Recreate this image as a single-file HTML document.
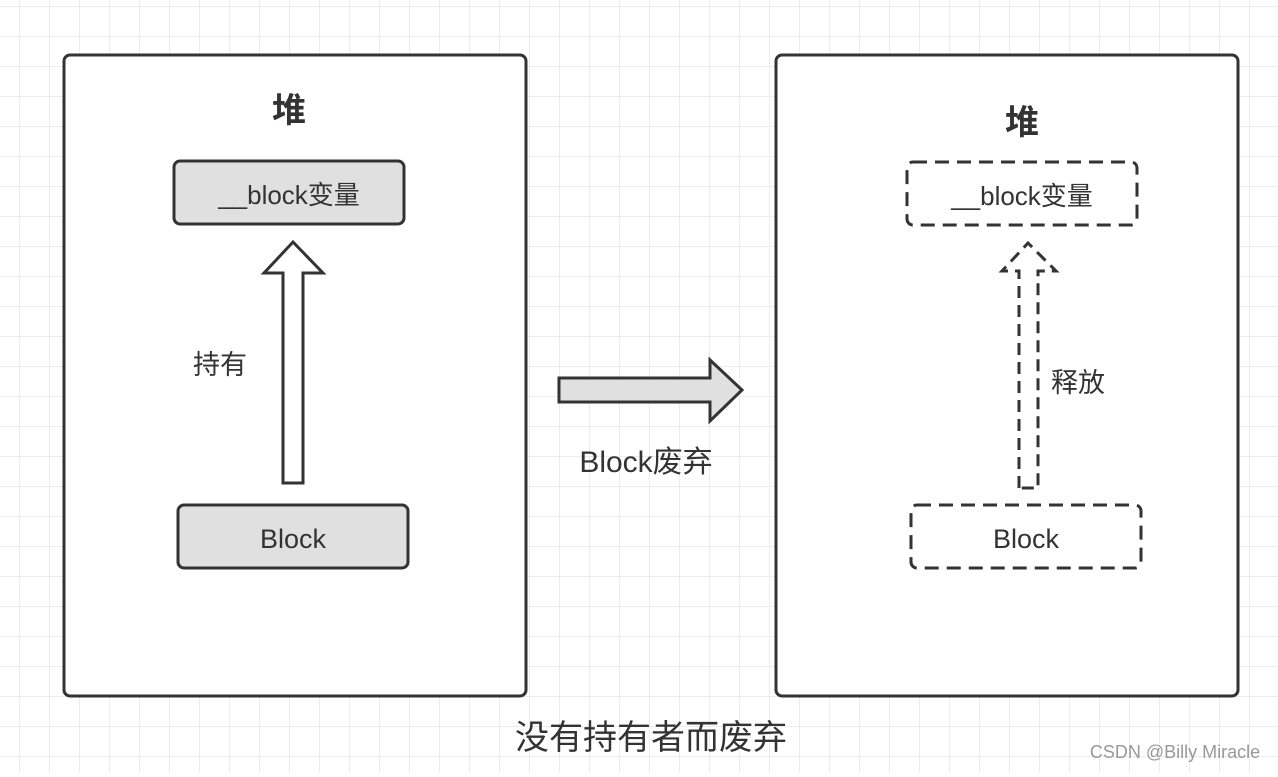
<!DOCTYPE html>
<html><head><meta charset="utf-8"><style>
body{margin:0;width:1278px;height:772px;overflow:hidden;background:#fff}
text{font-family:"Liberation Sans","Noto Sans CJK SC",sans-serif;fill:#333}
</style></head><body>
<svg width="1278" height="772" viewBox="0 0 1278 772" xmlns="http://www.w3.org/2000/svg">
<defs><pattern id="g" x="19" y="6" width="30" height="30" patternUnits="userSpaceOnUse">
<path d="M0 0H30M0 0V30" stroke="#ececec" stroke-width="2" fill="none"/></pattern></defs>
<rect width="1278" height="772" fill="url(#g)"/>
<g stroke="#333" stroke-width="3">
<rect x="64" y="55" width="462" height="641" rx="6" fill="#fff"/>
<rect x="776" y="55" width="462" height="641" rx="6" fill="#fff"/>
<rect x="174" y="161" width="230" height="63" rx="6" fill="#e0e0e0"/>
<rect x="178" y="505" width="230" height="63" rx="6" fill="#e0e0e0"/>
<path d="M283 483V273H264L293 242L323 273H303V483Z" fill="#fff" stroke-linejoin="miter"/>
<rect x="907" y="162" width="230" height="63" rx="6" fill="none" stroke-dasharray="14 8"/>
<rect x="911" y="505" width="230" height="63" rx="6" fill="none" stroke-dasharray="14 8"/>
<path d="M1019 488V271H1002L1028 243L1056 271H1038V488Z" fill="none" stroke-dasharray="12 7"/>
<path d="M559 378H710V360L742 390L710 421V402H559Z" fill="#e0e0e0"/>
</g>
<text x="289" y="122" font-size="34" font-weight="bold" text-anchor="middle">堆</text>
<text x="1022" y="134" font-size="34" font-weight="bold" text-anchor="middle">堆</text>
<text x="289" y="204" font-size="26" text-anchor="middle">__block变量</text>
<text x="1022" y="205" font-size="26" text-anchor="middle">__block变量</text>
<text x="293" y="548" font-size="27" text-anchor="middle">Block</text>
<text x="1026" y="548" font-size="27" text-anchor="middle">Block</text>
<text x="220" y="374" font-size="27" text-anchor="middle">持有</text>
<text x="1078" y="392" font-size="27" text-anchor="middle">释放</text>
<text x="646" y="472" font-size="30" text-anchor="middle">Block废弃</text>
<text x="651" y="749" font-size="34" text-anchor="middle">没有持有者而废弃</text>
<text x="1175" y="758" font-size="18" text-anchor="middle" style="fill:#999">CSDN @Billy Miracle</text>
</svg>
</body></html>
